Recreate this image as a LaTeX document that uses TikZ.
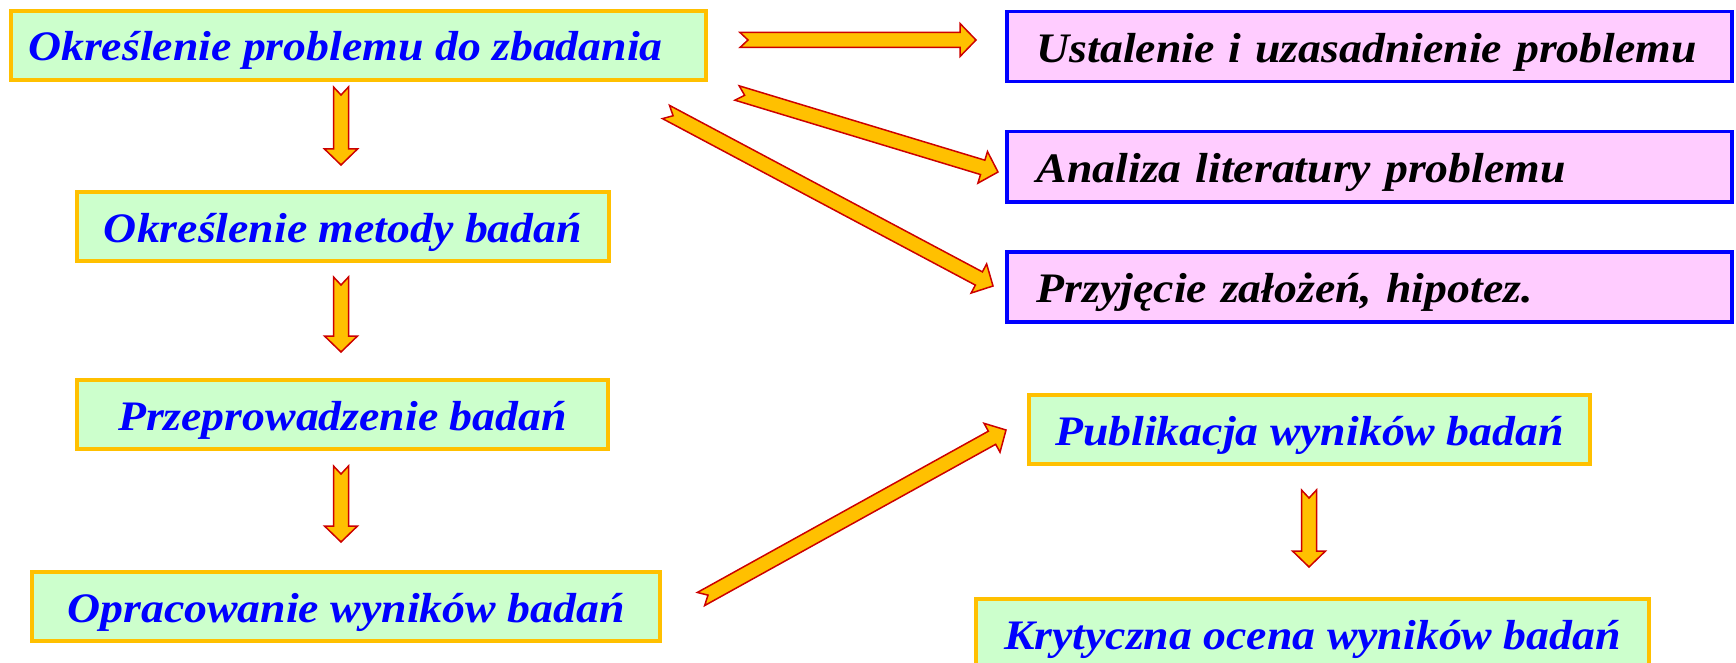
\documentclass[tikz,border=0pt]{standalone}
\usepackage{fontspec}
\setmainfont{Liberation Serif}[FakeStretch=1.09]
\usetikzlibrary{positioning,calc}

\definecolor{boxgreen}{RGB}{204,255,204}
\definecolor{boxpink}{RGB}{255,204,255}
\definecolor{amber}{RGB}{255,192,0}
\definecolor{arrowred}{RGB}{204,0,0}

% block arrow with notched tail, from #1 to #2
\newcommand{\fatarrow}[2]{%
  \coordinate (hb) at ($(#2)!16pt!(#1)$);
  \coordinate (nt) at ($(#1)!8pt!(#2)$);
  \draw[fatarrow] ($(#1)!7.5pt!90:(#2)$) -- ($(hb)!7.5pt!90:(#2)$)
    -- ($(hb)!16.5pt!90:(#2)$) -- (#2) -- ($(hb)!16.5pt!-90:(#2)$)
    -- ($(hb)!7.5pt!-90:(#2)$) -- ($(#1)!7.5pt!-90:(#2)$) -- (nt) -- cycle;
}

\begin{document}
\begin{tikzpicture}[x=1pt,y=-1pt,
  stage/.style={anchor=north west,draw=amber,line width=4pt,fill=boxgreen,
    text=blue,inner sep=0pt,minimum height=69pt,
    font=\bfseries\itshape\fontsize{42}{48}\selectfont,text height=31pt,text depth=0pt},
  task/.style={anchor=north west,draw=blue,line width=3.5pt,fill=boxpink,
    text=black,inner ysep=0pt,inner xsep=30pt,text width=665pt,align=left,minimum height=70pt,
    font=\bfseries\itshape\fontsize{42}{48}\selectfont,text height=31pt,text depth=0pt},
  fatarrow/.style={fill=amber,draw=arrowred,line width=1.5pt,line join=miter}]
\useasboundingbox (0,0) rectangle (1736,663);

\node (okresl) at (9,9) [stage,minimum width=695pt] {Określenie problemu do zbadania\kern26pt};
\node (metoda) at (75,190) [stage,minimum width=532pt] {Określenie metody badań};
\node (przepr) at (75,378) [stage,minimum width=531pt] {Przeprowadzenie badań};
\node (oprac) at (30,570) [stage,minimum width=628pt] {Opracowanie wyników badań};

\node (ustal) at (1005,10) [task] {\mbox{Ustalenie i uzasadnienie problemu}};
\node (analiza) at (1005,130) [task] {\mbox{Analiza literatury problemu}};
\node (przyj) at (1005,250) [task] {\mbox{Przyjęcie założeń, hipotez.}};

\node (publik) at (1027,393) [stage,minimum width=561pt] {Publikacja wyników badań};
\node (ocena) at (974,597) [stage,minimum width=673pt] {Krytyczna ocena wyników badań};

% arrow ends
\coordinate (d1s) at (341,87);   \coordinate (d1e) at (341,165);
\coordinate (d2s) at (341,277);  \coordinate (d2e) at (341,352);
\coordinate (d3s) at (341,466);  \coordinate (d3e) at (341,542);
\coordinate (d4s) at (1309,490); \coordinate (d4e) at (1309,567);
\coordinate (r1s) at (740,40);   \coordinate (r1e) at (976,40);
\coordinate (r2s) at (737,93);   \coordinate (r2e) at (998,172);
\coordinate (r3s) at (666,112);  \coordinate (r3e) at (993,286);
\coordinate (r4s) at (701,599);  \coordinate (r4e) at (1006,430);

\fatarrow{d1s}{d1e}
\fatarrow{d2s}{d2e}
\fatarrow{d3s}{d3e}
\fatarrow{d4s}{d4e}
\fatarrow{r1s}{r1e}
\fatarrow{r2s}{r2e}
\fatarrow{r3s}{r3e}
\fatarrow{r4s}{r4e}
\end{tikzpicture}
\end{document}
